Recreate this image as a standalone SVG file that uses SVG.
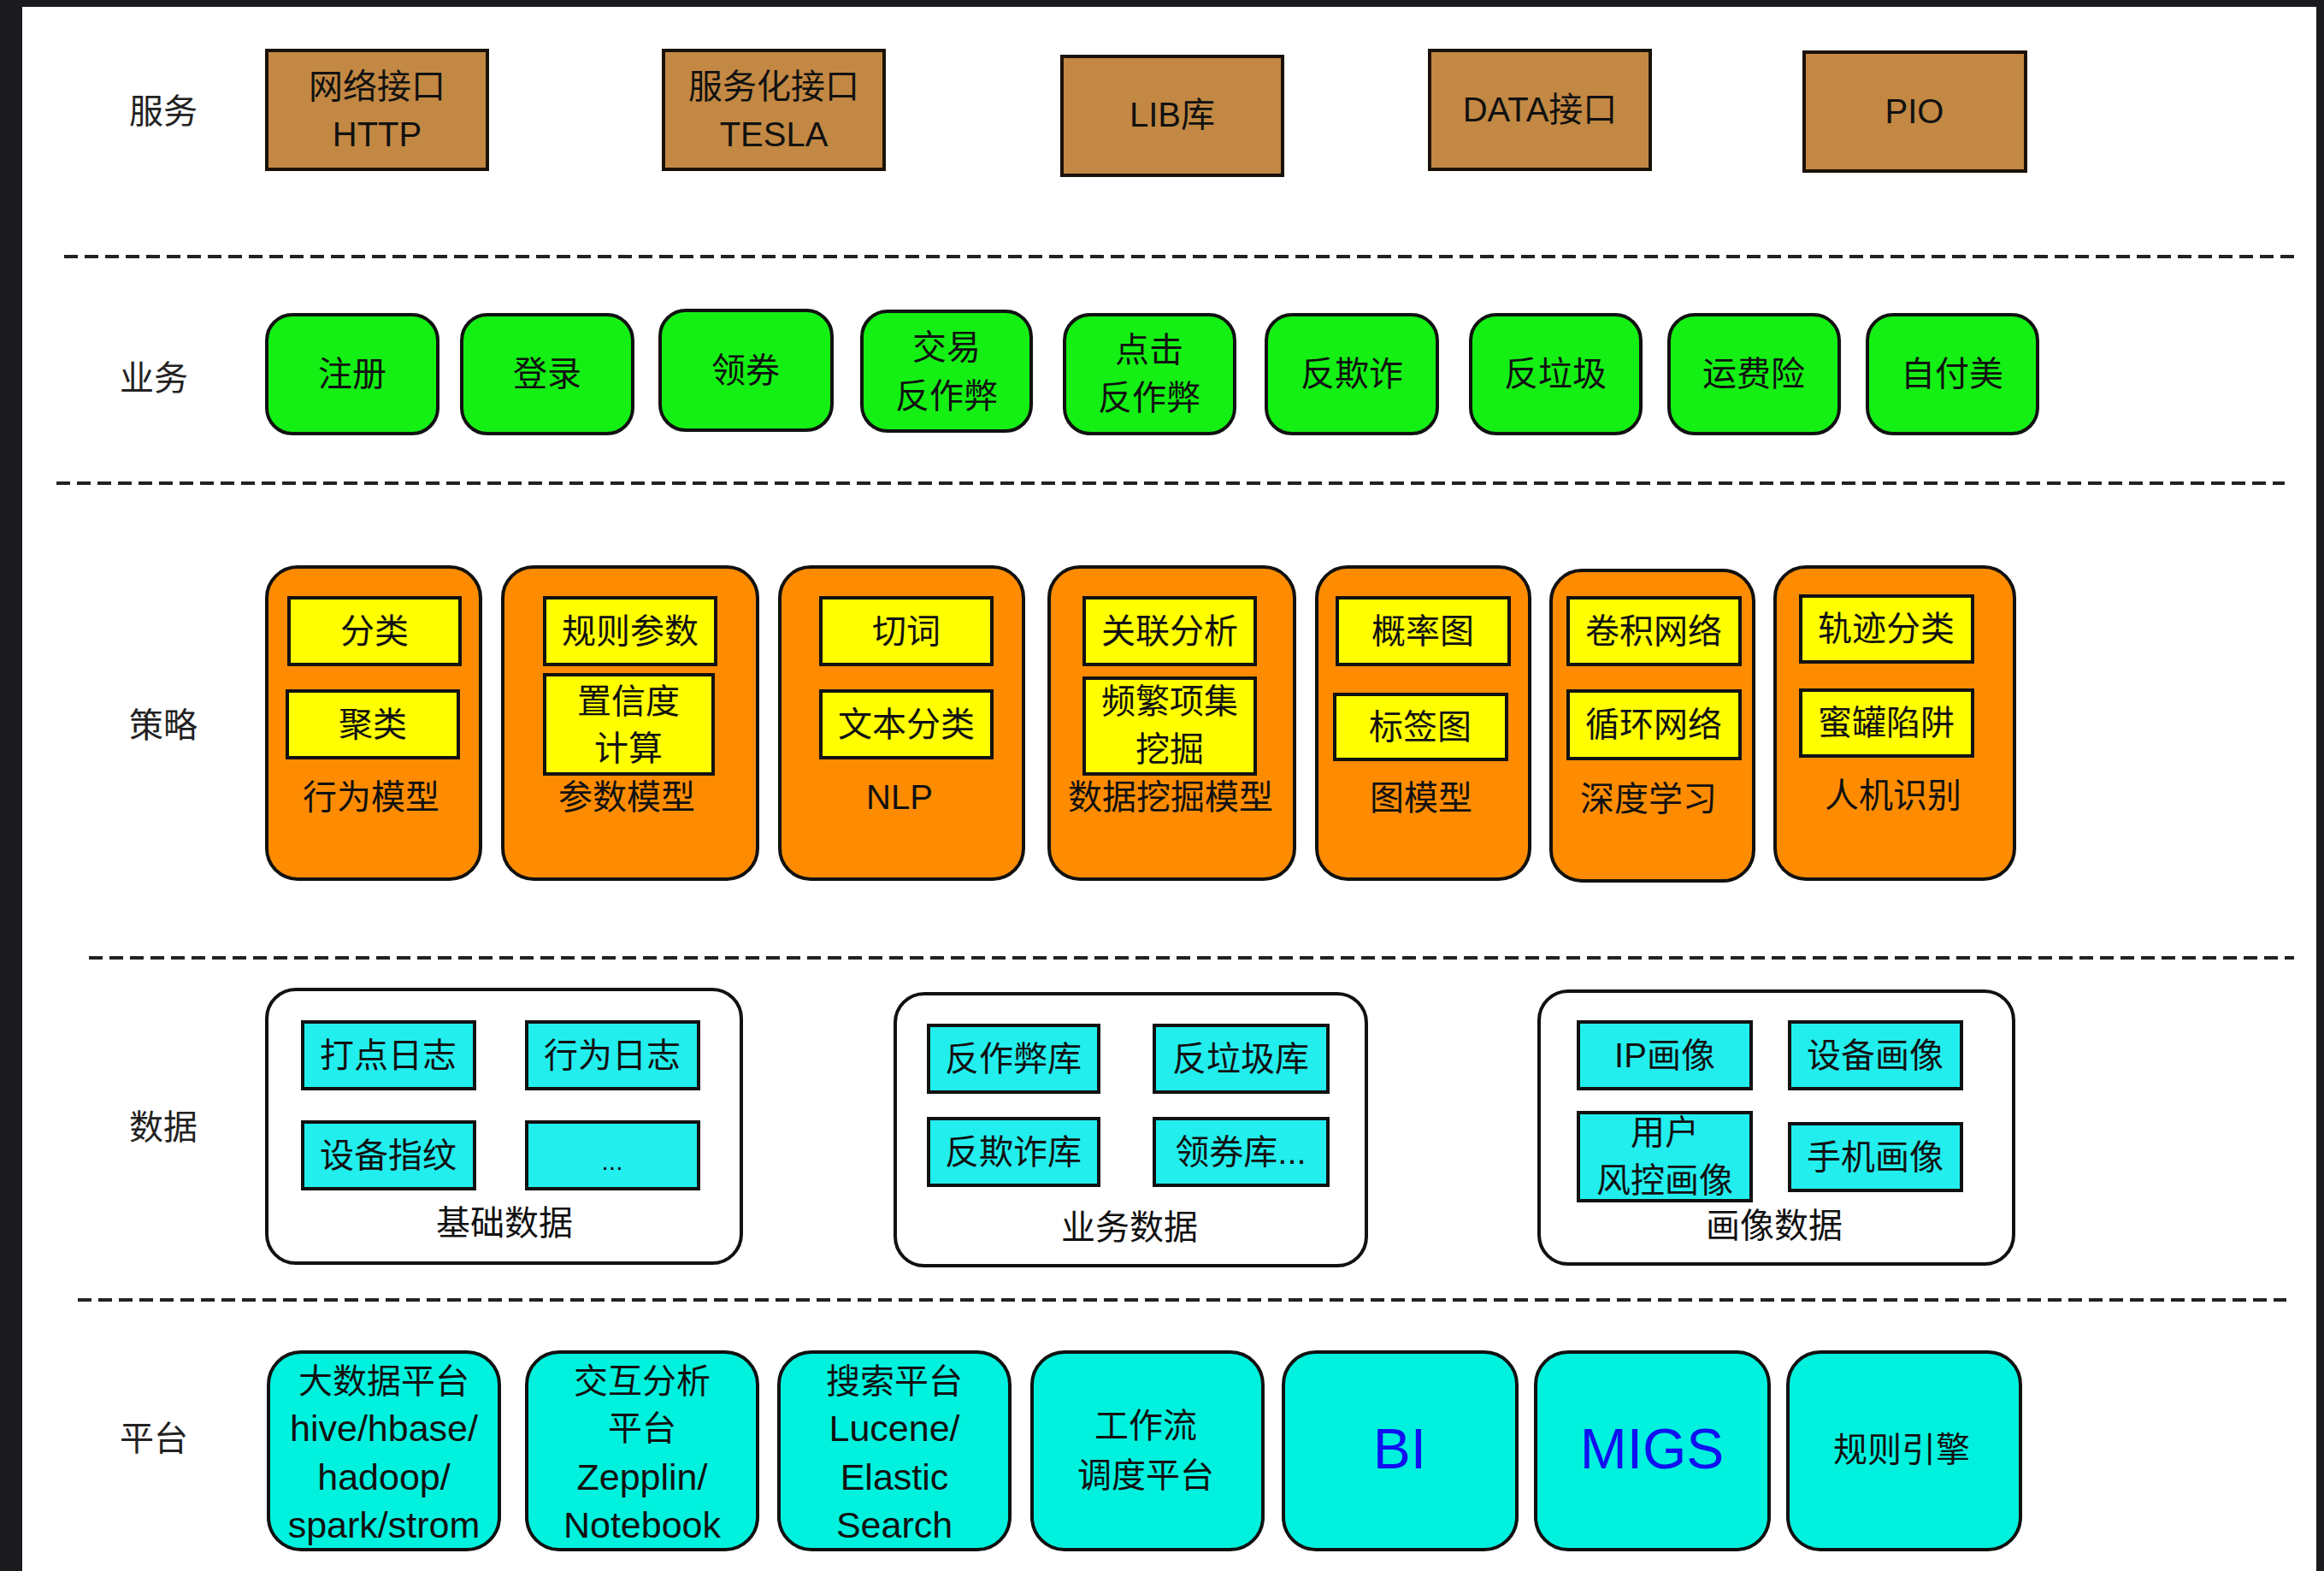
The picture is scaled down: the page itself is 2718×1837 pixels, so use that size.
<svg xmlns="http://www.w3.org/2000/svg" width="2718" height="1837" viewBox="0 0 2718 1837">
<style>
text{font-family:"Liberation Sans","Noto Sans CJK SC",sans-serif;font-size:40px;fill:#111;text-anchor:middle;dominant-baseline:central}
.lbl{font-size:40px;fill:#222}
.lat{font-size:43px}
.svc{fill:#C38843;stroke:#1a1208;stroke-width:4}
.biz{fill:#14F014;stroke:#111;stroke-width:4}
.str{fill:#FF8C00;stroke:#111;stroke-width:4}
.yel{fill:#FFFF00;stroke:#111;stroke-width:4}
.grp{fill:#fff;stroke:#111;stroke-width:4}
.cy{fill:#22EEEE;stroke:#111;stroke-width:4}
.plt{fill:#00F2DE;stroke:#111;stroke-width:4}
.dash{stroke:#222;stroke-width:4;stroke-dasharray:16 8;fill:none}
.blue{fill:#1010F0;font-size:66px}
</style>
<rect x="0" y="0" width="2718" height="1837" fill="#1B1B1F"/>
<rect x="26" y="8" width="2683" height="1829" fill="#fff"/>

<g id="layer-labels">
<text class="lbl" x="191" y="130">服务</text>
<text class="lbl" x="180" y="442">业务</text>
<text class="lbl" x="191" y="848">策略</text>
<text class="lbl" x="191" y="1318">数据</text>
<text class="lbl" x="180" y="1682">平台</text>
</g>

<g id="connectors">
<line class="dash" x1="75" y1="300" x2="2683" y2="300"/>
<line class="dash" x1="66" y1="565" x2="2672" y2="565"/>
<line class="dash" x1="104" y1="1120" x2="2683" y2="1120"/>
<line class="dash" x1="91" y1="1520" x2="2674" y2="1520"/>
</g>

<!-- 服务 -->
<g id="svc-http"><rect class="svc" x="312" y="59" width="258" height="139"/><text x="441" y="101">网络接口</text><text x="441" y="157">HTTP</text></g>
<g id="svc-tesla"><rect class="svc" x="776" y="59" width="258" height="139"/><text x="905" y="101">服务化接口</text><text x="905" y="157">TESLA</text></g>
<g id="svc-lib"><rect class="svc" x="1242" y="66" width="258" height="139"/><text x="1371" y="134">LIB库</text></g>
<g id="svc-data"><rect class="svc" x="1672" y="59" width="258" height="139"/><text x="1801" y="128">DATA接口</text></g>
<g id="svc-pio"><rect class="svc" x="2110" y="61" width="259" height="139"/><text x="2239" y="130">PIO</text></g>

<!-- 业务 -->
<g id="biz-reg"><rect class="biz" x="312" y="368" width="200" height="139" rx="30"/><text x="412" y="437">注册</text></g>
<g id="biz-login"><rect class="biz" x="540" y="368" width="200" height="139" rx="30"/><text x="640" y="437">登录</text></g>
<g id="biz-coupon"><rect class="biz" x="772" y="363" width="201" height="140" rx="30"/><text x="872" y="433">领券</text></g>
<g id="biz-trade"><rect class="biz" x="1008" y="364" width="198" height="140" rx="30"/><text x="1107" y="406">交易</text><text x="1107" y="463">反作弊</text></g>
<g id="biz-click"><rect class="biz" x="1245" y="368" width="199" height="139" rx="30"/><text x="1344" y="409">点击</text><text x="1344" y="465">反作弊</text></g>
<g id="biz-fraud"><rect class="biz" x="1481" y="368" width="200" height="139" rx="30"/><text x="1581" y="437">反欺诈</text></g>
<g id="biz-spam"><rect class="biz" x="1720" y="368" width="199" height="139" rx="30"/><text x="1819" y="437">反垃圾</text></g>
<g id="biz-ship"><rect class="biz" x="1952" y="368" width="199" height="139" rx="30"/><text x="2051" y="437">运费险</text></g>
<g id="biz-pay"><rect class="biz" x="2184" y="368" width="199" height="139" rx="30"/><text x="2283" y="437">自付美</text></g>

<!-- 策略 -->
<g id="str-behavior"><rect class="str" x="312" y="663" width="250" height="365" rx="36"/>
<rect class="yel" x="338" y="699" width="200" height="78"/><text x="438" y="738">分类</text>
<rect class="yel" x="336" y="808" width="200" height="78"/><text x="436" y="847">聚类</text>
<text x="434" y="932">行为模型</text></g>
<g id="str-param"><rect class="str" x="588" y="663" width="298" height="365" rx="36"/>
<rect class="yel" x="637" y="699" width="200" height="78"/><text x="737" y="738">规则参数</text>
<rect class="yel" x="637" y="789" width="197" height="116"/><text x="735" y="820">置信度</text><text x="735" y="875">计算</text>
<text x="733" y="932">参数模型</text></g>
<g id="str-nlp"><rect class="str" x="912" y="663" width="285" height="365" rx="36"/>
<rect class="yel" x="960" y="699" width="200" height="78"/><text x="1060" y="738">切词</text>
<rect class="yel" x="960" y="808" width="200" height="78"/><text x="1060" y="847">文本分类</text>
<text x="1052" y="932">NLP</text></g>
<g id="str-mining"><rect class="str" x="1227" y="663" width="287" height="365" rx="36"/>
<rect class="yel" x="1268" y="699" width="200" height="78"/><text x="1368" y="738">关联分析</text>
<rect class="yel" x="1268" y="793" width="200" height="112"/><text x="1368" y="820">频繁项集</text><text x="1368" y="876">挖掘</text>
<text x="1369" y="932">数据挖掘模型</text></g>
<g id="str-graph"><rect class="str" x="1540" y="663" width="249" height="365" rx="36"/>
<rect class="yel" x="1564" y="699" width="201" height="78"/><text x="1664" y="738">概率图</text>
<rect class="yel" x="1561" y="812" width="201" height="76"/><text x="1661" y="850">标签图</text>
<text x="1662" y="933">图模型</text></g>
<g id="str-deep"><rect class="str" x="1814" y="667" width="237" height="363" rx="36"/>
<rect class="yel" x="1834" y="699" width="201" height="78"/><text x="1934" y="738">卷积网络</text>
<rect class="yel" x="1834" y="808" width="201" height="79"/><text x="1934" y="847">循环网络</text>
<text x="1928" y="934">深度学习</text></g>
<g id="str-human"><rect class="str" x="2076" y="663" width="280" height="365" rx="36"/>
<rect class="yel" x="2106" y="697" width="201" height="77"/><text x="2206" y="735">轨迹分类</text>
<rect class="yel" x="2106" y="807" width="201" height="77"/><text x="2206" y="845">蜜罐陷阱</text>
<text x="2214" y="930">人机识别</text></g>

<!-- 数据 -->
<g id="data-base"><rect class="grp" x="312" y="1157" width="555" height="320" rx="34"/>
<rect class="cy" x="354" y="1195" width="201" height="78"/><text x="454" y="1234">打点日志</text>
<rect class="cy" x="616" y="1195" width="201" height="78"/><text x="716" y="1234">行为日志</text>
<rect class="cy" x="354" y="1312" width="201" height="78"/><text x="454" y="1351">设备指纹</text>
<rect class="cy" x="616" y="1312" width="201" height="78"/><text x="716" y="1357" style="font-size:30px">...</text>
<text x="590" y="1430">基础数据</text></g>
<g id="data-biz"><rect class="grp" x="1047" y="1162" width="551" height="318" rx="34"/>
<rect class="cy" x="1086" y="1199" width="199" height="78"/><text x="1185" y="1238">反作弊库</text>
<rect class="cy" x="1350" y="1199" width="203" height="78"/><text x="1451" y="1238">反垃圾库</text>
<rect class="cy" x="1086" y="1308" width="199" height="78"/><text x="1185" y="1347">反欺诈库</text>
<rect class="cy" x="1350" y="1308" width="203" height="78"/><text x="1451" y="1347">领券库...</text>
<text x="1321" y="1435">业务数据</text></g>
<g id="data-profile"><rect class="grp" x="1800" y="1159" width="555" height="319" rx="34"/>
<rect class="cy" x="1846" y="1195" width="202" height="78"/><text x="1947" y="1234">IP画像</text>
<rect class="cy" x="2093" y="1195" width="201" height="78"/><text x="2193" y="1234">设备画像</text>
<rect class="cy" x="1846" y="1301" width="202" height="103"/><text x="1947" y="1324">用户</text><text x="1947" y="1380">风控画像</text>
<rect class="cy" x="2093" y="1314" width="201" height="78"/><text x="2193" y="1353">手机画像</text>
<text x="2075" y="1433">画像数据</text></g>

<!-- 平台 -->
<g id="plt-bigdata"><rect class="plt" x="314" y="1581" width="270" height="231" rx="38"/>
<text x="449" y="1615">大数据平台</text><text class="lat" x="449" y="1670">hive/hbase/</text><text class="lat" x="449" y="1727">hadoop/</text><text class="lat" x="449" y="1783">spark/strom</text></g>
<g id="plt-interact"><rect class="plt" x="616" y="1581" width="270" height="231" rx="38"/>
<text x="751" y="1615">交互分析</text><text x="751" y="1670">平台</text><text class="lat" x="751" y="1727">Zepplin/</text><text class="lat" x="751" y="1783">Notebook</text></g>
<g id="plt-search"><rect class="plt" x="911" y="1581" width="270" height="231" rx="38"/>
<text x="1046" y="1615">搜索平台</text><text class="lat" x="1046" y="1670">Lucene/</text><text class="lat" x="1046" y="1727">Elastic</text><text class="lat" x="1046" y="1783">Search</text></g>
<g id="plt-workflow"><rect class="plt" x="1207" y="1581" width="270" height="231" rx="38"/>
<text x="1340" y="1667">工作流</text><text x="1340" y="1725">调度平台</text></g>
<g id="plt-bi"><rect class="plt" x="1501" y="1581" width="273" height="231" rx="38"/><text class="blue" x="1637" y="1694">BI</text></g>
<g id="plt-migs"><rect class="plt" x="1796" y="1581" width="273" height="231" rx="38"/><text class="blue" x="1932" y="1694">MIGS</text></g>
<g id="plt-rule"><rect class="plt" x="2091" y="1581" width="272" height="231" rx="38"/><text x="2224" y="1695">规则引擎</text></g>
</svg>
